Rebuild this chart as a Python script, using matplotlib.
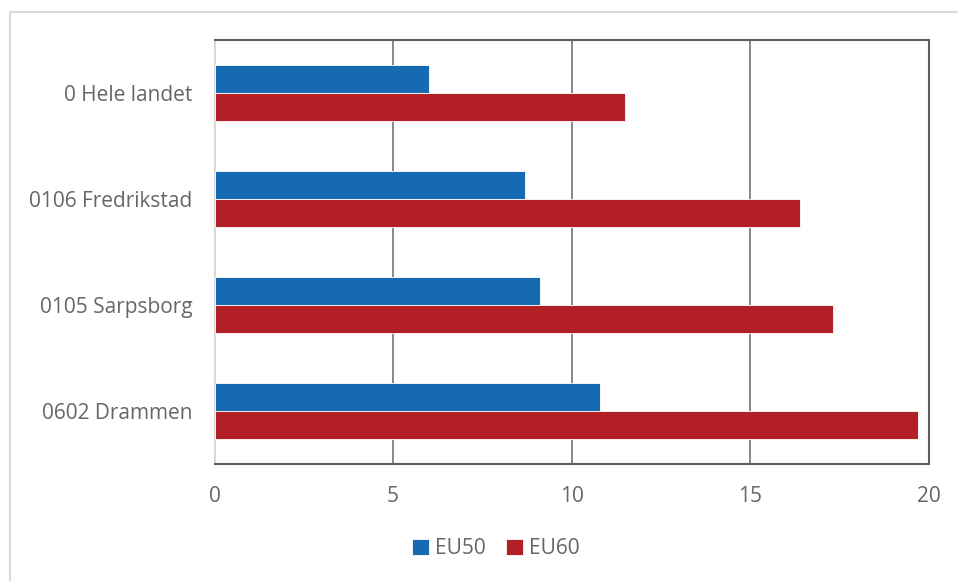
import matplotlib.pyplot as plt
import matplotlib.patches as mpatches
import numpy as np

plt.rcParams['font.family'] = ['Open Sans', 'DejaVu Sans']

# data
categories = ['0 Hele landet', '0106 Fredrikstad', '0105 Sarpsborg', '0602 Drammen']
eu50 = [6.0, 8.7, 9.1, 10.8]
eu60 = [11.5, 16.4, 17.3, 19.7]
x_ticks = [0, 5, 10, 15, 20]

blue = '#166AB1'
red = '#B21F25'
text_col = '#666666'

fig = plt.figure(figsize=(9.58, 5.81), dpi=100)
ax = fig.add_axes([214.5 / 958, 1 - 464 / 581, (929 - 214.5) / 958, (464 - 40) / 581])

# outer chart border (runs off the right and bottom edges)
fig.patches.append(mpatches.Rectangle((10 / 958, -0.1), 1.2, 1.1 - 12 / 581, transform=fig.transFigure,
                                      fill=False, edgecolor='#d9d9d9', linewidth=1.5))

y = np.arange(len(categories))
h = 0.26
ax.barh(y - h / 2, eu50, height=h, color=blue, edgecolor='white', linewidth=0.6, label='EU50', zorder=3)
ax.barh(y + h / 2, eu60, height=h, color=red, edgecolor='white', linewidth=0.6, label='EU60', zorder=3)

ax.set_ylim(len(categories) - 0.5, -0.5)
ax.set_xlim(0, 20)
ax.set_xticks(x_ticks)
ax.set_yticks(y)
ax.set_yticklabels(categories)
ax.grid(axis='x', color='#7f7f7f', linewidth=1.3, zorder=0)
ax.tick_params(length=0, labelsize=15, colors=text_col)
ax.tick_params(axis='x', pad=16)
ax.tick_params(axis='y', pad=16)

for side in ['top', 'right', 'bottom']:
    ax.spines[side].set_color('#5f5f5f')
    ax.spines[side].set_linewidth(1.5)
ax.spines['left'].set_color('#d9d9d9')
ax.spines['left'].set_linewidth(1.5)

leg = fig.legend(loc='center', bbox_to_anchor=(496 / 958, 1 - 549 / 581), ncol=2, frameon=False,
                 fontsize=15, handlelength=0.8, handleheight=0.8, handletextpad=0.3, columnspacing=1.0)
for t in leg.get_texts():
    t.set_color(text_col)

fig.savefig('out.png', dpi=100)
